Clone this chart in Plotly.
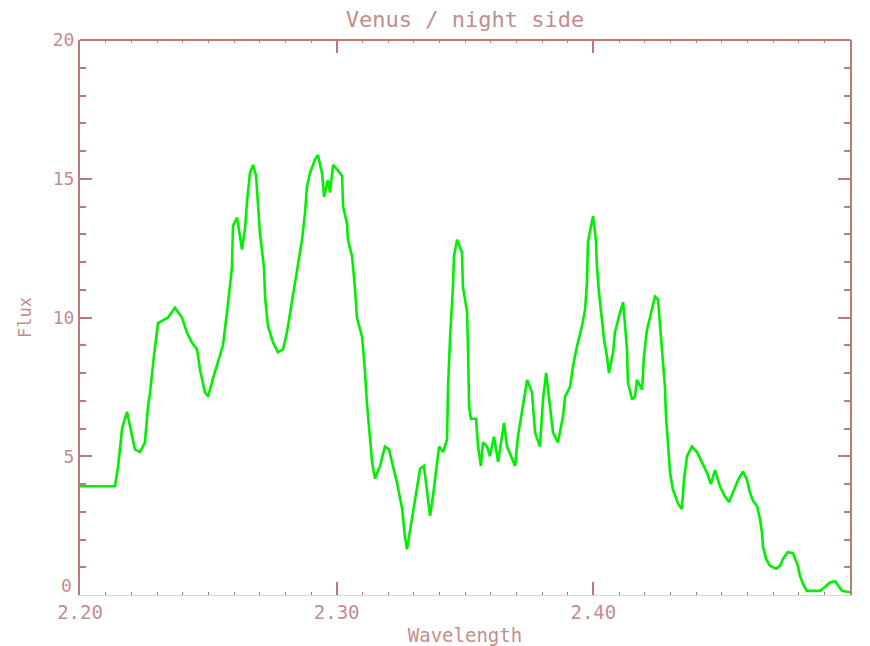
import plotly.graph_objects as go

# Wavelength (microns)
wavelength = [
    2.2000, 2.2136, 2.2148, 2.2164, 2.2183, 2.2195, 2.2214, 2.2234, 2.2253, 2.2265,
    2.2273, 2.2288, 2.2304, 2.2323, 2.2343, 2.2370, 2.2397, 2.2417, 2.2436, 2.2456,
    2.2468, 2.2487, 2.2499, 2.2518, 2.2538, 2.2557, 2.2573, 2.2592, 2.2596, 2.2612,
    2.2631, 2.2643, 2.2651, 2.2662, 2.2674, 2.2686, 2.2694, 2.2701, 2.2717, 2.2721,
    2.2732, 2.2752, 2.2771, 2.2791, 2.2806, 2.2826, 2.2845, 2.2865, 2.2877, 2.2884,
    2.2896, 2.2916, 2.2927, 2.2943, 2.2951, 2.2966, 2.2974, 2.2986, 2.3005, 2.3021,
    2.3025, 2.3040, 2.3044, 2.3060, 2.3071, 2.3079, 2.3099, 2.3110, 2.3118, 2.3130,
    2.3138, 2.3149, 2.3169, 2.3188, 2.3204, 2.3219, 2.3235, 2.3255, 2.3266, 2.3274,
    2.3294, 2.3309, 2.3325, 2.3340, 2.3352, 2.3364, 2.3375, 2.3387, 2.3399, 2.3414,
    2.3430, 2.3434, 2.3442, 2.3453, 2.3457, 2.3469, 2.3488, 2.3492, 2.3508, 2.3512,
    2.3516, 2.3523, 2.3543, 2.3551, 2.3562, 2.3570, 2.3586, 2.3597, 2.3613, 2.3629,
    2.3652, 2.3664, 2.3679, 2.3695, 2.3706, 2.3722, 2.3742, 2.3761, 2.3773, 2.3792,
    2.3804, 2.3816, 2.3831, 2.3843, 2.3862, 2.3882, 2.3890, 2.3909, 2.3921, 2.3936,
    2.3956, 2.3968, 2.3975, 2.3979, 2.3991, 2.3999, 2.4010, 2.4014, 2.4022, 2.4034,
    2.4042, 2.4053, 2.4061, 2.4077, 2.4084, 2.4100, 2.4116, 2.4123, 2.4131, 2.4135,
    2.4151, 2.4162, 2.4170, 2.4190, 2.4197, 2.4209, 2.4225, 2.4240, 2.4252, 2.4260,
    2.4271, 2.4279, 2.4283, 2.4291, 2.4299, 2.4310, 2.4330, 2.4345, 2.4353, 2.4365,
    2.4384, 2.4404, 2.4423, 2.4443, 2.4458, 2.4474, 2.4494, 2.4513, 2.4529, 2.4544,
    2.4564, 2.4583, 2.4599, 2.4610, 2.4622, 2.4638, 2.4649, 2.4657, 2.4661, 2.4673,
    2.4688, 2.4712, 2.4727, 2.4739, 2.4758, 2.4778, 2.4797, 2.4805, 2.4817, 2.4832,
    2.4856, 2.4883, 2.4903, 2.4922, 2.4942, 2.4953, 2.4969, 2.5000,
]

# Flux
flux = [
    3.92, 3.92, 4.6, 6.0, 6.6, 6.1, 5.25, 5.15, 5.5, 6.8,
    7.3, 8.6, 9.8, 9.9, 10.0, 10.35, 10.0, 9.45, 9.1, 8.85,
    8.1, 7.3, 7.15, 7.8, 8.4, 9.0, 10.2, 11.8, 13.3, 13.6,
    12.45, 13.2, 14.2, 15.2, 15.5, 15.1, 14.0, 13.05, 11.8, 10.75,
    9.7, 9.1, 8.75, 8.85, 9.45, 10.55, 11.6, 12.8, 13.8, 14.7,
    15.2, 15.7, 15.85, 15.2, 14.35, 14.95, 14.5, 15.5, 15.3, 15.1,
    14.0, 13.4, 12.8, 12.2, 11.1, 10.0, 9.3, 8.1, 6.9, 5.7,
    4.8, 4.2, 4.65, 5.35, 5.25, 4.65, 4.05, 3.1, 2.1, 1.65,
    2.75, 3.55, 4.55, 4.65, 3.7, 2.85, 3.55, 4.55, 5.35, 5.15,
    5.6, 7.5, 9.3, 11.1, 12.2, 12.8, 12.35, 11.1, 10.2, 8.75,
    6.8, 6.35, 6.35, 5.35, 4.65, 5.5, 5.35, 5.0, 5.7, 4.8,
    6.2, 5.35, 5.0, 4.65, 5.7, 6.6, 7.75, 7.3, 5.85, 5.35,
    7.05, 8.0, 6.8, 5.85, 5.5, 6.45, 7.15, 7.5, 8.25, 8.95,
    9.7, 10.3, 11.25, 12.7, 13.3, 13.65, 12.8, 11.85, 10.9, 9.9,
    9.2, 8.6, 8.0, 8.75, 9.45, 10.05, 10.55, 9.8, 8.85, 7.65,
    7.05, 7.15, 7.75, 7.4, 8.6, 9.55, 10.2, 10.75, 10.65, 9.7,
    8.6, 7.5, 6.45, 5.25, 4.4, 3.8, 3.3, 3.1, 4.15, 5.0,
    5.35, 5.15, 4.8, 4.4, 4.0, 4.5, 3.9, 3.55, 3.35, 3.7,
    4.15, 4.45, 4.15, 3.7, 3.4, 3.2, 2.75, 2.25, 1.75, 1.3,
    1.05, 0.95, 1.05, 1.3, 1.55, 1.5, 1.05, 0.7, 0.4, 0.15,
    0.15, 0.15, 0.3, 0.45, 0.5, 0.35, 0.15, 0.1,
]

x_range = [2.20, 2.50]
y_range = [0, 20]
x_ticks = [2.20, 2.30, 2.40, 2.50]
x_tick_labels = ["2.20", "2.30", "2.40", "2.50"]
y_ticks = [0, 5, 10, 15, 20]
y_tick_labels = ["", "5", "10", "15", "20"]   # "0" is placed just above its tick, as in the reference
y_zero_label = "0"

AXIS = "#bb7a7a"
TEXT = "#c48d8d"
FONT = "DejaVu Sans Mono"

W, H = 862, 638   # page body has an 8px margin in the 870x646 window

fig = go.Figure()
fig.add_trace(go.Scatter(
    x=wavelength, y=flux, mode="lines",
    line=dict(color="#00f000", width=2.6),
    showlegend=False, hoverinfo="skip",
))

fig.update_layout(
    width=W, height=H,
    margin=dict(l=72, r=20, t=32, b=51),
    paper_bgcolor="white", plot_bgcolor="white",
    font=dict(family=FONT, color=TEXT, size=18),
    title=dict(text="Venus / night side", x=0.5, xref="paper",
               y=1 - 11 / H, yref="container", yanchor="middle", xanchor="center",
               font=dict(family=FONT, size=22, color=TEXT)),
)

fig.update_xaxes(
    range=x_range, tickvals=x_ticks, ticktext=x_tick_labels,
    showgrid=False, zeroline=False, automargin=False,
    showline=True, linecolor="rgba(187,122,122,0.35)", linewidth=1, mirror="allticks",
    ticks="inside", ticklen=13, tickwidth=2, tickcolor=AXIS,
    minor=dict(ticks="inside", ticklen=3, tickwidth=1, dtick=0.01, tick0=2.20,
               tickcolor=AXIS, showgrid=False),
    tickfont=dict(family=FONT, size=19, color=TEXT),
    title=dict(text="Wavelength", font=dict(family=FONT, size=19, color=TEXT), standoff=11),
)
fig.update_yaxes(
    range=y_range, tickvals=y_ticks, ticktext=y_tick_labels,
    showgrid=False, zeroline=False, automargin=False,
    showline=True, linecolor=AXIS, linewidth=2, mirror="allticks",
    ticks="inside", ticklen=12, tickwidth=2, tickcolor=AXIS,
    minor=dict(ticks="inside", ticklen=6, tickwidth=2, dtick=1, tick0=0,
               tickcolor=AXIS, showgrid=False),
    tickfont=dict(family=FONT, size=18, color=TEXT),
    title=dict(text="Flux", font=dict(family=FONT, size=17, color=TEXT), standoff=17),
)

fig.add_annotation(text=y_zero_label, xref="paper", x=0, yref="y", y=y_range[0],
                   xanchor="right", yanchor="bottom", xshift=-6, yshift=-3, showarrow=False,
                   font=dict(family=FONT, size=18, color=TEXT))

# solid top frame line (the bottom one is faint in the reference)
fig.add_shape(type="line", xref="paper", yref="paper", x0=0, x1=1, y0=1, y1=1,
              line=dict(color=AXIS, width=2), layer="above")

fig.write_html("out.html")
